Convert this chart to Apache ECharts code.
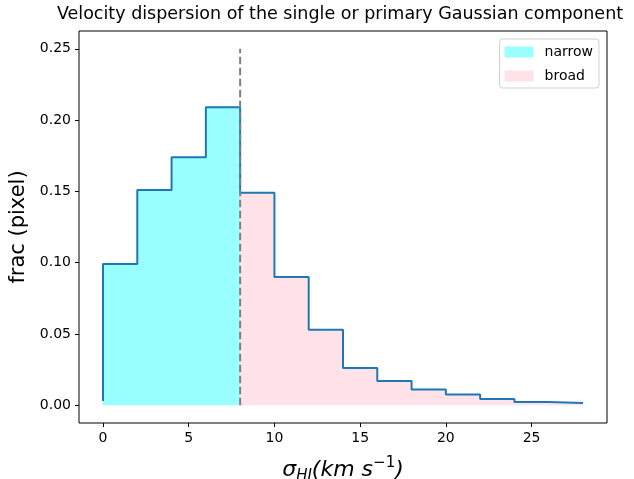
<!DOCTYPE html>
<html>
<head>
<meta charset="utf-8">
<script src="https://cdn.jsdelivr.net/npm/echarts@6/dist/echarts.min.js"></script>
<style>
html,body{margin:0;padding:0;background:#fff;}
#chart{width:634px;height:479px;}
</style>
</head>
<body>
<div id="chart"></div>
<script>
// ---- data ----
const binEdges = [0, 2, 4, 6, 8, 10, 12, 14, 16, 18, 20, 22, 24, 26, 28];
const fracValues = [0.003, 0.099, 0.151, 0.174, 0.209, 0.149, 0.090, 0.053, 0.026, 0.017, 0.011, 0.0075, 0.0044, 0.0023, 0.0016];
const splitX = 8;
const dashTop = 0.25;
const xTicks = [0, 5, 10, 15, 20, 25];
const yTicks = [0.00, 0.05, 0.10, 0.15, 0.20, 0.25];
const seriesNames = ['narrow', 'broad'];
const titleText = 'Velocity dispersion of the single or primary Gaussian component';

const allPts = binEdges.map((x, i) => [x, fracValues[i]]);
const narrowPts = allPts.filter(p => p[0] <= splitX);
const broadPts = allPts.filter(p => p[0] >= splitX);
const dashPts = [[splitX, 0], [splitX, dashTop]];

const FONT = 'DejaVu Sans';
const narrowColor = 'rgba(0,255,255,0.4)';
const broadColor = 'rgba(255,192,203,0.45)';

const chart = echarts.init(document.getElementById('chart'), null, {renderer: 'canvas'});
chart.setOption({
  animation: false,
  backgroundColor: '#fff',
  title: {
    text: titleText,
    left: 340, top: 5, padding: 0, textAlign: 'center',
    textStyle: {fontFamily: FONT, fontSize: 17.5, fontWeight: 'normal', color: '#000'}
  },
  legend: {
    orient: 'vertical',
    right: 35, top: 39,
    padding: [6, 6, 5, 5],
    itemWidth: 29, itemHeight: 11, itemGap: 10,
    borderColor: '#d0d0d0', borderWidth: 1, borderRadius: 3,
    backgroundColor: 'rgba(255,255,255,0.8)',
    textStyle: {fontFamily: FONT, fontSize: 14, color: '#000', padding: [0, 0, 0, 6]},
    data: [
      {name: seriesNames[0], icon: 'rect', itemStyle: {color: narrowColor}},
      {name: seriesNames[1], icon: 'rect', itemStyle: {color: broadColor}}
    ]
  },
  grid: {
    left: 79, right: 27, top: 31, bottom: 56,
    outerBoundsMode: 'none', containLabel: false,
    show: true, borderColor: '#000', borderWidth: 1, backgroundColor: 'transparent'
  },
  xAxis: {
    type: 'value', min: -1.4, max: 29.4,
    name: '{s|σ}{sub|HI}{n|(km s}{sup|−1}{n|)}',
    nameLocation: 'middle', nameGap: 33,
    nameTextStyle: {
      color: '#000',
      rich: {
        s: {fontFamily: FONT, fontStyle: 'italic', fontSize: 22, lineHeight: 28, color: '#000'},
        n: {fontFamily: FONT, fontStyle: 'italic', fontSize: 22, lineHeight: 28, color: '#000'},
        sub: {fontFamily: FONT, fontStyle: 'italic', fontSize: 15, lineHeight: 12, verticalAlign: 'bottom', color: '#000'},
        sup: {fontFamily: FONT, fontSize: 15, lineHeight: 14, verticalAlign: 'top', color: '#000'}
      }
    },
    axisLine: {show: false, onZero: false},
    splitLine: {show: false},
    axisTick: {show: true, length: 4, customValues: xTicks, lineStyle: {color: '#000', width: 1}},
    axisLabel: {customValues: xTicks, margin: 8, color: '#000', fontFamily: FONT, fontSize: 14,
      formatter: v => String(v)}
  },
  yAxis: {
    type: 'value', min: -0.0125, max: 0.2625,
    name: 'frac (pixel)',
    nameLocation: 'middle', nameGap: 50,
    nameTextStyle: {fontFamily: FONT, fontSize: 21, color: '#000'},
    axisLine: {show: false, onZero: false},
    splitLine: {show: false},
    axisTick: {show: true, length: 4, customValues: yTicks, lineStyle: {color: '#000', width: 1}},
    axisLabel: {customValues: yTicks, margin: 8, color: '#000', fontFamily: FONT, fontSize: 14,
      formatter: v => v.toFixed(2)}
  },
  series: [
    {
      name: seriesNames[0], type: 'line', step: 'start', data: narrowPts,
      showSymbol: false, symbol: 'none',
      lineStyle: {width: 0, opacity: 0},
      itemStyle: {color: narrowColor},
      areaStyle: {color: narrowColor, opacity: 1, origin: 0},
      z: 1
    },
    {
      name: seriesNames[1], type: 'line', step: 'start', data: broadPts,
      showSymbol: false, symbol: 'none',
      lineStyle: {width: 0, opacity: 0},
      itemStyle: {color: broadColor},
      areaStyle: {color: broadColor, opacity: 1, origin: 0},
      z: 1
    },
    {
      name: 'hist', type: 'line', step: 'start', data: allPts,
      showSymbol: false, symbol: 'none',
      lineStyle: {width: 2, color: '#1f77b4'},
      z: 3
    },
    {
      name: 'split', type: 'line', data: dashPts,
      showSymbol: false, symbol: 'none',
      lineStyle: {width: 2, color: '#808080', type: [7.5, 3.5]},
      z: 4
    }
  ]
});
</script>
</body>
</html>
